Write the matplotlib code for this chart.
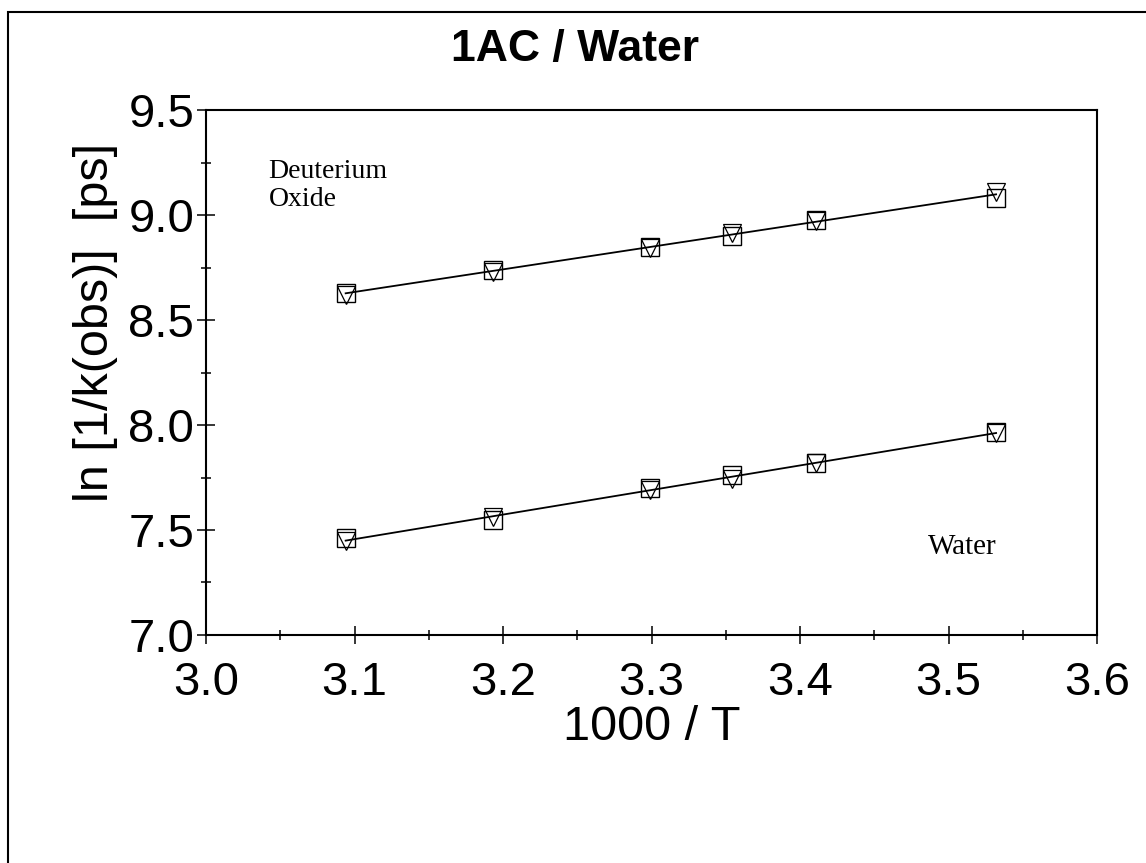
import numpy as np
import matplotlib
matplotlib.use('Agg')
import matplotlib.pyplot as plt
from matplotlib.patches import Rectangle
from matplotlib.ticker import MultipleLocator, FormatStrFormatter

# 1000/T for 50, 40, 30, 25, 20, 10 C
inv_temp = [3.094, 3.193, 3.299, 3.354, 3.411, 3.532]

d2o_sq = [8.63, 8.74, 8.85, 8.90, 8.975, 9.08]
d2o_tri = [8.62, 8.73, 8.845, 8.915, 8.97, 9.11]
water_sq = [7.46, 7.55, 7.70, 7.76, 7.82, 7.965]
water_tri = [7.45, 7.56, 7.69, 7.745, 7.82, 7.96]

title = "1AC / Water"
xlabel = "1000 / T"
ylabel = "ln [1/k(obs)]  [ps]"

plt.rcParams['font.family'] = ['Liberation Sans', 'DejaVu Sans']

fig = plt.figure(figsize=(11.46, 8.63), dpi=100)
ax = fig.add_axes([0.1798, 0.2642, 0.7775, 0.6083])

x = np.array(inv_temp)
for sq, tri in [(d2o_sq, d2o_tri), (water_sq, water_tri)]:
    both = (np.array(sq) + np.array(tri)) / 2
    p = np.polyfit(x, both, 1)
    xf = np.array([x.min(), x.max()])
    ax.plot(xf, np.polyval(p, xf), color='black', lw=1.3, zorder=2)
    ax.plot(x, sq, 's', ms=12.5, mfc='none', mec='black', mew=1.0, zorder=3)
    ax.plot(x, tri, 'v', ms=12.5, mfc='none', mec='black', mew=0.9, zorder=3)

ax.set_xlim(3.0, 3.6)
ax.set_ylim(7.0, 9.5)
ax.xaxis.set_major_locator(MultipleLocator(0.1))
ax.xaxis.set_minor_locator(MultipleLocator(0.05))
ax.yaxis.set_major_locator(MultipleLocator(0.5))
ax.yaxis.set_minor_locator(MultipleLocator(0.25))
ax.xaxis.set_major_formatter(FormatStrFormatter('%.1f'))
ax.yaxis.set_major_formatter(FormatStrFormatter('%.1f'))
ax.tick_params(which='major', direction='inout', length=13, width=1.1, labelsize=34)
ax.tick_params(axis='x', which='major', pad=12)
ax.tick_params(axis='y', which='major', pad=2)
ax.tick_params(which='minor', direction='inout', length=7, width=1.1)
ax.tick_params(top=False, right=False, which='both')
for s in ax.spines.values():
    s.set_linewidth(1.5)

ax.set_xlabel(xlabel, fontsize=35, labelpad=0)
ax.set_ylabel(ylabel, fontsize=35)
ax.yaxis.set_label_coords(-0.099, 0.595)

fig.text(0.502, 1 - 50 / 863, title, fontsize=32, fontweight='bold', ha='center', va='center')

serif = ['Liberation Serif', 'DejaVu Serif']
ax.text(3.042, 9.205, "Deuterium", family=serif, fontsize=20, va='center')
ax.text(3.042, 9.076, "Oxide", family=serif, fontsize=20, va='center')
ax.text(3.509, 7.419, "Water", family=serif, fontsize=21, va='center', ha='center')

# frame around the whole page
fig.patches.append(Rectangle((8 / 1146, -0.1), 1.2, 1 - 12 / 863 + 0.1, transform=fig.transFigure,
                             fill=False, edgecolor='black', lw=1.5))

fig.savefig('out.png', dpi=100)
